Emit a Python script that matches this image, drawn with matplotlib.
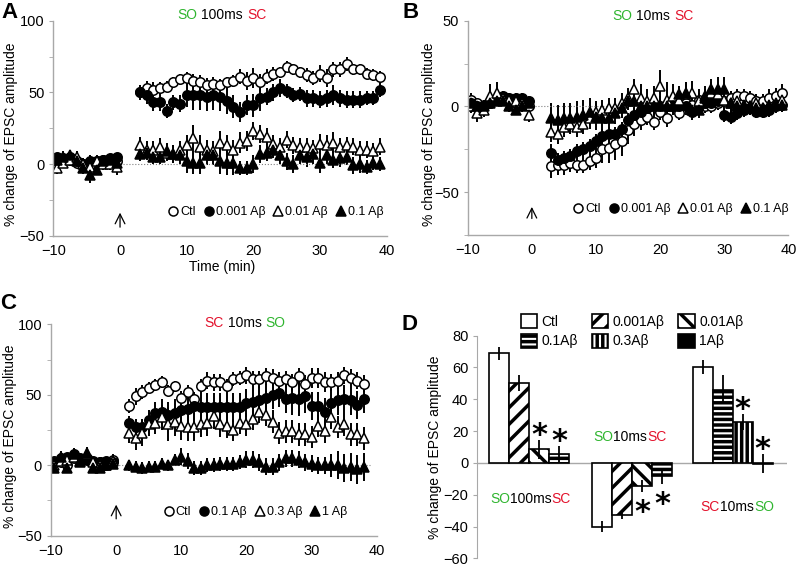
#importing the libraries
import numpy as np
import matplotlib
matplotlib.use('Agg')
import matplotlib.pyplot as plt
from matplotlib.lines import Line2D
from matplotlib.patches import Patch
from matplotlib.ticker import MultipleLocator

plt.rcParams['font.family'] = ['Liberation Sans', 'DejaVu Sans']
plt.rcParams['hatch.linewidth'] = 2.5

GREEN = '#2fb52f'
RED = '#e3122c'
GREY = '#a8a8a8'

#time points (min)
t_base = np.arange(-9.5, 0, 1.0)
t_ab = np.arange(3, 40)
t_c = np.arange(2, 39)

#panel A : SO 100ms SC
a_labels = ['Ctl', '0.001 A\u03b2', '0.01 A\u03b2', '0.1 A\u03b2']
a_base = [[2, 3, 3, 1, 0, -1, 2, 3, 3, 2],
          [5, 4, 5, 2, 0, 2, 2, 3, 4, 5],
          [-3, 1, 3, 5, 0, -2, 2, 0, 0, -2],
          [3, 5, 6, 2, -3, -8, -4, 2, 3, 1]]
a_post = [[50, 53, 52, 53, 54, 57, 59, 60, 58, 57, 55, 56, 55, 57, 58, 61, 58, 60, 57, 61,
           63, 64, 68, 66, 64, 62, 60, 63, 60, 66, 66, 70, 66, 66, 63, 62, 61],
          [50, 48, 43, 43, 37, 43, 42, 48, 48, 48, 47, 48, 47, 44, 40, 36, 41, 41, 46, 47,
           50, 53, 51, 48, 49, 46, 46, 45, 46, 48, 46, 45, 45, 45, 46, 46, 52],
          [13, 10, 10, 12, 8, 7, 10, 13, 18, 12, 10, 9, 15, 13, 10, 15, 16, 23, 21, 19,
           14, 12, 17, 13, 12, 12, 11, 14, 13, 15, 12, 13, 12, 10, 10, 9, 12],
          [7, 8, 5, 5, 9, 7, 6, 2, 1, 1, 6, 6, 2, 1, 1, -3, -3, 0, 7, 8,
           10, 6, 2, 0, 6, 5, 7, 1, 6, 3, 4, 5, -1, 0, -2, 1, 0]]
a_base_err = [[4, 3, 3, 3, 3, 4, 3, 3, 3, 4],
              [3, 3, 3, 3, 4, 4, 3, 3, 3, 3],
              [4, 4, 4, 4, 4, 5, 4, 4, 4, 6],
              [4, 4, 4, 4, 4, 5, 4, 4, 4, 4]]
a_post_err = [[4, 5, 5, 4, 4, 4, 4, 4, 5, 5, 5, 5, 4, 4, 4, 5, 6, 7, 6, 5,
               5, 4, 4, 4, 4, 5, 5, 6, 6, 5, 5, 5, 4, 4, 4, 4, 4],
              [5, 6, 6, 6, 5, 5, 6, 8, 10, 10, 10, 10, 10, 9, 8, 7, 7, 8, 9, 6,
               6, 6, 5, 5, 5, 6, 6, 6, 6, 7, 6, 6, 6, 6, 5, 5, 5],
              [6, 6, 6, 6, 6, 6, 6, 7, 9, 8, 7, 7, 8, 7, 7, 7, 7, 6, 6, 6,
               6, 6, 6, 6, 6, 6, 6, 7, 7, 7, 6, 6, 6, 6, 6, 6, 6],
              [5, 5, 5, 5, 6, 6, 6, 8, 8, 8, 7, 7, 9, 9, 9, 5, 5, 6, 6, 6,
               6, 6, 6, 6, 6, 7, 7, 7, 6, 6, 6, 6, 6, 6, 5, 5, 5]]

#panel B : SO 10ms SC
b_labels = ['Ctl', '0.001 A\u03b2', '0.01 A\u03b2', '0.1 A\u03b2']
b_base = [[4, 2, 1, 2, 4, 5, 3, 2, 2, 0],
          [2, 0, 0, 2, 4, 6, 5, 5, 5, 3],
          [0, -4, -2, 6, 8, 5, 4, 3, 2, -5],
          [2, 0, 0, 2, 3, 3, 0, -2, 0, 2]]
b_post = [[-35, -34, -34, -33, -34, -34, -32, -30, -25, -24, -22, -20, -14, -10, -8, -6, -9, -3, -7, 0,
           -4, 2, 1, 4, 0, 0, 2, 3, 5, 6, 6, 5, 3, 3, 5, 6, 8],
          [-27, -31, -30, -29, -26, -25, -23, -20, -17, -16, -16, -13, -8, -5, -3, -1, 0, 0, 0, 1,
           0, 0, -3, 0, 2, 2, 3, -5, -6, -4, -2, -1, -3, -3, -2, 0, 1],
          [-15, -16, -12, -10, -12, -10, -7, -3, -2, -1, -1, 2, 5, 10, 5, 3, 5, 12, 4, 6,
           4, 7, 8, 3, 6, 8, 7, 4, 2, 3, 1, 0, 2, -1, 1, 2, 4],
          [-7, -8, -7, -7, -6, -5, -3, -6, -7, -7, -4, -1, 3, 3, 0, 0, 0, 1, 0, 0,
           7, 8, -2, -2, 5, 10, 10, 10, 2, 0, 0, 0, -1, -1, 0, 1, 1]]
b_base_err = [[4, 3, 3, 3, 3, 3, 3, 3, 3, 4],
              [3, 3, 3, 3, 3, 3, 3, 3, 3, 3],
              [4, 5, 4, 7, 6, 4, 3, 3, 3, 4],
              [3, 3, 3, 3, 3, 3, 3, 3, 3, 3]]
b_post_err = [[7, 6, 6, 5, 5, 5, 5, 6, 8, 9, 9, 9, 8, 7, 6, 5, 5, 5, 5, 4,
               4, 4, 4, 4, 4, 4, 4, 4, 4, 4, 4, 4, 4, 4, 5, 5, 5],
              [5, 4, 4, 4, 4, 4, 4, 4, 4, 4, 4, 4, 4, 4, 4, 4, 4, 4, 5, 5,
               5, 5, 4, 4, 4, 4, 4, 4, 4, 4, 4, 4, 4, 4, 4, 4, 4],
              [6, 6, 6, 6, 6, 6, 6, 6, 6, 6, 6, 6, 6, 6, 8, 7, 7, 9, 10, 7,
               7, 7, 7, 7, 6, 6, 6, 6, 6, 5, 5, 5, 5, 5, 5, 5, 5],
              [9, 9, 9, 9, 9, 9, 8, 8, 7, 7, 6, 6, 5, 5, 5, 5, 5, 5, 5, 5,
               5, 6, 6, 5, 5, 6, 7, 7, 7, 5, 4, 4, 4, 4, 4, 4, 4]]

#panel C : SC 10ms SO
c_labels = ['Ctl', '0.1 A\u03b2', '0.3 A\u03b2', '1 A\u03b2']
c_base = [[3, 2, 0, 5, 4, 5, 3, 2, 0, 4],
          [2, 5, 6, 8, 5, 4, 2, 2, 3, 2],
          [0, 3, 4, 6, 3, 8, 2, 0, 0, 3],
          [-2, 6, -2, 8, 2, 9, -2, -2, 0, 1]]
c_post = [[42, 49, 52, 55, 57, 59, 53, 56, 48, 52, 47, 56, 60, 59, 59, 56, 61, 62, 64, 61,
           61, 63, 62, 60, 61, 59, 63, 58, 62, 62, 59, 59, 60, 64, 62, 60, 58],
          [30, 27, 27, 32, 37, 38, 36, 37, 39, 40, 42, 41, 41, 41, 41, 41, 41, 41, 44, 45,
           46, 48, 50, 51, 47, 48, 47, 49, 42, 42, 38, 44, 46, 47, 46, 43, 47],
          [23, 19, 23, 29, 30, 34, 29, 31, 28, 27, 27, 29, 30, 35, 29, 28, 25, 30, 29, 33,
           38, 36, 31, 23, 24, 24, 22, 22, 20, 28, 24, 34, 27, 29, 22, 22, 19],
          [0, -1, -2, -1, -1, 1, 0, 4, 6, 3, -2, -2, 0, 0, 1, 1, 1, 2, 4, 4,
           2, -1, -1, 2, 5, 5, 4, 2, 1, 0, 0, 0, 0, -2, -1, -3, -1]]
c_base_err = [[3, 3, 3, 3, 3, 3, 3, 3, 3, 4],
              [3, 3, 3, 3, 3, 3, 3, 3, 3, 3],
              [3, 3, 3, 3, 3, 3, 3, 3, 3, 3],
              [3, 4, 3, 4, 3, 4, 3, 3, 3, 3]]
c_post_err = [[5, 6, 5, 4, 4, 4, 4, 4, 5, 5, 5, 5, 6, 6, 6, 5, 5, 5, 6, 6,
               6, 6, 6, 6, 6, 6, 6, 6, 7, 7, 7, 6, 6, 6, 6, 6, 6],
              [5, 6, 6, 7, 8, 9, 9, 10, 10, 10, 10, 10, 10, 10, 10, 10, 10, 10, 10, 10,
               10, 10, 10, 10, 10, 12, 12, 12, 10, 10, 10, 10, 10, 10, 10, 10, 10],
              [7, 8, 9, 8, 8, 9, 12, 10, 10, 10, 10, 9, 9, 9, 9, 9, 8, 8, 8, 8,
               8, 8, 8, 8, 8, 8, 8, 8, 8, 8, 8, 8, 8, 8, 8, 8, 8],
              [4, 4, 4, 4, 4, 4, 4, 4, 6, 6, 5, 5, 5, 5, 5, 5, 5, 5, 6, 6,
               6, 6, 6, 6, 6, 6, 6, 6, 6, 6, 6, 8, 10, 10, 10, 10, 10]]

#panel D : summary bars
d_groups = ['SO100msSC', 'SO10msSC', 'SC10msSO']
d_conds = [['Ctl', '0.001A\u03b2', '0.01A\u03b2', '0.1A\u03b2'],
           ['Ctl', '0.001A\u03b2', '0.01A\u03b2', '0.1A\u03b2'],
           ['Ctl', '0.1A\u03b2', '0.3A\u03b2', '1A\u03b2']]
d_vals = [[69, 50.5, 8.5, 5.5],
          [-40, -32.5, -14.5, -8.5],
          [60.5, 46, 25.5, -0.5]]
d_errs = [[4, 5, 6, 5],
          [3.5, 2.5, 3.5, 4.5],
          [4.5, 9, 5, 6]]
d_sig = [[False, False, True, True],
         [False, False, True, True],
         [False, False, True, True]]

styles = [('o', 'white'), ('o', 'black'), ('^', 'white'), ('^', 'black')]
hatches = {'Ctl': ('white', ''), '0.001A\u03b2': ('white', '//'), '0.01A\u03b2': ('white', '\\\\'),
           '0.1A\u03b2': ('white', '---'), '0.3A\u03b2': ('white', '|||'), '1A\u03b2': ('black', '')}

FS = 10.5   # tick labels
LS = 10     # axis labels / titles


def color_text(ax, x, y, parts, transform, gap=3):
    t = ax.text(x, y, parts[0][0], color=parts[0][1], transform=transform,
                fontsize=LS, ha='left', va='center')
    for s, c in parts[1:]:
        t = ax.annotate(s, xy=(1, 0), xycoords=t, xytext=(gap, 0), textcoords='offset points',
                        color=c, fontsize=LS, ha='left', va='bottom')


def style_axes(ax):
    for s in ['top', 'right']:
        ax.spines[s].set_visible(False)
    for s in ['left', 'bottom']:
        ax.spines[s].set_color(GREY)
        ax.spines[s].set_linewidth(1.0)
    ax.tick_params(which='both', color=GREY, labelsize=FS, length=3)
    ax.tick_params(axis='x', length=0, pad=6)


def time_panel(ax, t_post, base, post, base_err, post_err, labels, ylim, legend_xy):
    t = np.concatenate([t_base, t_post])
    for (m, fc), b, p, be, pe in zip(styles, base, post, base_err, post_err):
        ax.errorbar(t, b + p, yerr=be + pe, fmt=m, mfc=fc, mec='k', ms=6.8, mew=1.1,
                    ecolor='k', elinewidth=1.4, capsize=0)
    ax.set_xlim(-10, 40)
    ax.set_ylim(*ylim)
    ax.set_xticks([-10, 0, 10, 20, 30, 40])
    ax.yaxis.set_major_locator(MultipleLocator(50))
    ax.yaxis.set_minor_locator(MultipleLocator(25))
    style_axes(ax)
    ax.set_ylabel('% change of EPSC amplitude', fontsize=LS)
    handles = [Line2D([], [], ls='none', marker=m, mfc=fc, mec='k', ms=6.5, mew=1.1) for m, fc in styles]
    ax.legend(handles, labels, ncol=4, loc='center right', bbox_to_anchor=legend_xy, frameon=False,
              fontsize=9, handlelength=0.7, handletextpad=0.2, columnspacing=0.7,
              borderpad=0, borderaxespad=0)


fig = plt.figure(figsize=(8, 5.66), dpi=100)

#panel A
axA = fig.add_axes([0.0667, 0.5836, 0.4167, 0.3798])
time_panel(axA, t_ab, a_base, a_post, a_base_err, a_post_err, a_labels, (-50, 100), (0.99, 0.11))
axA.hlines(0, 0.5, 39, colors='gray', linestyles=':', lw=0.8)
axA.annotate('', xy=(0, -32), xytext=(0, -46),
             arrowprops=dict(arrowstyle='->,head_width=0.35,head_length=0.7', lw=0.9))
axA.set_xlabel('Time (min)', fontsize=LS)
axA.xaxis.set_label_coords(0.505, -0.115)
axA.yaxis.set_label_coords(-0.106, 0.47)
color_text(axA, 0.371, 1.026, [('SO', GREEN), ('100ms', 'black'), ('SC', RED)], axA.transAxes)

#panel B
axB = fig.add_axes([0.5846, 0.5848, 0.4010, 0.3786])
time_panel(axB, t_ab, b_base, b_post, b_base_err, b_post_err, b_labels, (-75, 50), (1.0, 0.12))
axB.hlines(0, 0, 40, colors='gray', linestyles=':', lw=0.8)
axB.annotate('', xy=(0, -57), xytext=(0, -67),
             arrowprops=dict(arrowstyle='->,head_width=0.35,head_length=0.7', lw=0.9))
axB.yaxis.set_label_coords(-0.100, 0.47)
color_text(axB, 0.45, 1.02, [('SO', GREEN), ('10ms', 'black'), ('SC', RED)], axB.transAxes)

#panel C
axC = fig.add_axes([0.0638, 0.0535, 0.4071, 0.3735])
time_panel(axC, t_c, c_base, c_post, c_base_err, c_post_err, c_labels, (-50, 100), (0.91, 0.11))
axC.hlines(0, -10, 39, colors='gray', linestyles=':', lw=0.8)
axC.annotate('', xy=(0, -26), xytext=(0, -40),
             arrowprops=dict(arrowstyle='->,head_width=0.35,head_length=0.7', lw=0.9))
axC.yaxis.set_label_coords(-0.105, 0.47)
color_text(axC, 0.47, 1.006, [('SC', RED), ('10ms', 'black'), ('SO', GREEN)], axC.transAxes)

#panel D
axD = fig.add_axes([0.5966, 0.0136, 0.3867, 0.3933])
starts = [0.6, 5.75, 10.8]
for g in range(3):
    up = d_vals[g][0] > 0   # stars above the bars for positive groups
    for i in range(4):
        x = starts[g] + i + 0.5
        fc, h = hatches[d_conds[g][i]]
        axD.bar(x, d_vals[g][i], width=1.0, color=fc, edgecolor='k', hatch=h, lw=1.2, zorder=2)
        axD.errorbar(x, d_vals[g][i], yerr=d_errs[g][i], fmt='none', ecolor='k',
                     elinewidth=1.3, capsize=0, zorder=3)
        if d_sig[g][i]:
            if up:
                ys = d_vals[g][i] + d_errs[g][i] + 3
            else:
                ys = d_vals[g][i] - d_errs[g][i] - 13
            axD.text(x, ys, '*', ha='center', va='center', fontsize=22, fontweight='bold',
                     family='DejaVu Sans')
axD.axhline(0, color=GREY, lw=1.0, zorder=1)
axD.set_xlim(0, 15.5)
axD.set_ylim(-60, 80)
axD.set_yticks(np.arange(-60, 81, 20))
axD.set_xticks([])
axD.spines['bottom'].set_visible(False)
for s in ['top', 'right']:
    axD.spines[s].set_visible(False)
axD.spines['left'].set_color(GREY)
axD.tick_params(axis='y', color=GREY, labelsize=FS, length=3)
axD.set_ylabel('% change of EPSC amplitude', fontsize=LS)
axD.yaxis.set_label_coords(-0.115, 0.5)
color_text(axD, 0.64, -23, [('SO', GREEN), ('100ms', 'black'), ('SC', RED)], axD.transData, gap=0)
color_text(axD, 5.8, 16.5, [('SO', GREEN), ('10ms', 'black'), ('SC', RED)], axD.transData, gap=0)
color_text(axD, 11.2, -28, [('SC', RED), ('10ms', 'black'), ('SO', GREEN)], axD.transData, gap=0)

leg_order = ['Ctl', '0.1A\u03b2', '0.001A\u03b2', '0.3A\u03b2', '0.01A\u03b2', '1A\u03b2']
d_handles = [Patch(facecolor=hatches[k][0], edgecolor='k', hatch=hatches[k][1], lw=1.2) for k in leg_order]
axD.legend(d_handles, leg_order, ncol=3, loc='center', bbox_to_anchor=(0.5, 1.02), frameon=False,
           fontsize=LS, handlelength=1.2, handleheight=1.2, handletextpad=0.3, columnspacing=1.0,
           labelspacing=0.35, borderpad=0, borderaxespad=0)

#panel letters
for lab, x, y in [('A', 0.002, 0.997), ('B', 0.503, 0.997), ('C', 0.0, 0.482), ('D', 0.502, 0.445)]:
    fig.text(x, y, lab, fontsize=16, fontweight='bold', va='top', ha='left')

plt.savefig('out.png', dpi=100)
